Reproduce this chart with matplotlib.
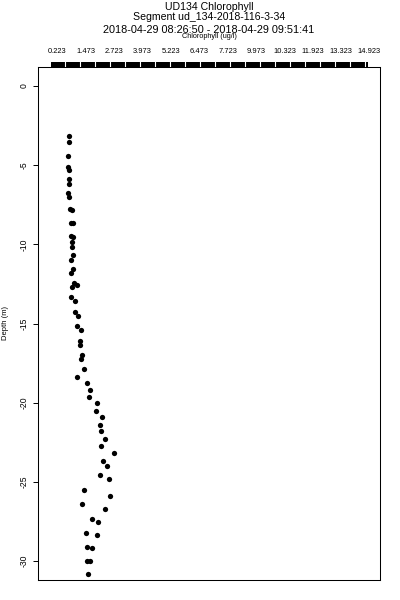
import numpy as np
import matplotlib
matplotlib.use("Agg")
import matplotlib.pyplot as plt

# chlorophyll (ug/l) and depth (m)
chl = [0.73, 0.73, 0.70, 0.70, 0.71, 0.71, 0.73, 0.70, 0.72, 0.77, 0.86,
       0.82, 0.92, 0.80, 0.92, 0.85, 0.85, 0.92, 0.80, 0.89, 0.84, 0.95,
       1.08, 0.86, 0.82, 0.99, 0.99, 1.13, 1.09, 1.25, 1.21, 1.22, 1.32,
       1.26, 1.37, 1.10, 1.51, 1.66, 1.62, 1.95, 1.91, 2.18, 2.09, 2.13,
       2.33, 2.13, 2.73, 2.24, 2.41, 2.10, 2.50, 1.39, 2.53, 1.29, 2.32,
       1.73, 2.00, 1.49, 1.95, 1.51, 1.73, 1.52, 1.66, 1.58]
depth = [-3.14, -3.52, -4.40, -5.10, -5.31, -5.89, -6.19, -6.78, -7.01,
         -7.79, -7.80, -8.67, -8.67, -9.46, -9.52, -9.84, -10.19, -10.70,
         -10.99, -11.54, -11.78, -12.46, -12.55, -12.68, -13.31, -13.58,
         -14.26, -14.53, -15.16, -15.41, -16.10, -16.33, -17.01, -17.23,
         -17.89, -18.36, -18.74, -19.20, -19.65, -20.04, -20.51, -20.91,
         -21.40, -21.81, -22.30, -22.73, -23.15, -23.67, -23.99, -24.55,
         -24.85, -25.52, -25.91, -26.41, -26.72, -27.35, -27.56, -28.22,
         -28.38, -29.13, -29.20, -30.01, -30.01, -30.84]

top_tick_vals = [0.223 + 1.25 * k for k in range(12)]
top_tick_labels = ["0.223", "1.473", "2.723", "3.973", "5.223", "6.473",
                   "7.723", "9.973", "10.323", "11.923", "13.323", "14.923"]
depth_ticks = [0, -5, -10, -15, -20, -25, -30]

title_lines = ["UD134 Chlorophyll",
               "Segment ud_134-2018-116-3-34",
               "2018-04-29 08:26:50 - 2018-04-29 09:51:41"]
xlabel = "Chlorophyll (ug/l)"
ylabel = "Depth (m)"

plt.rcParams['font.family'] = ['Liberation Sans', 'DejaVu Sans']

fig = plt.figure(figsize=(4, 6), dpi=100)
ax = fig.add_axes([38 / 400, 20 / 600, 342 / 400, 513 / 600])

ax.plot(chl, depth, 'o', color='black', ms=3.8, mew=0)
ax.set_xlim(-0.636, 14.437)
ax.set_ylim(-31.2, 1.2)

ax.set_yticks(depth_ticks)
ax.set_yticklabels([str(v) for v in depth_ticks], rotation=90, va='center', fontsize=6.2)
ax.tick_params(axis='y', length=3.6, width=0.7, pad=3, direction='out')
ax.set_ylabel(ylabel, fontsize=5.5, labelpad=8)

ax.xaxis.tick_top()
ax.set_xticks(top_tick_vals)
ax.set_xticklabels(top_tick_labels, fontsize=5.4)
ax.tick_params(axis='x', length=0, pad=8.5)

for sp in ax.spines.values():
    sp.set_linewidth(0.75)

# black segmented strip above the box
strip = fig.add_axes([51 / 400, 533 / 600, 317 / 400, 5 / 600])
strip.set_xlim(0, 317)
strip.set_ylim(0, 1)
strip.axvspan(0, 317, color='black')
for xs in range(14, 317, 15):
    strip.axvline(xs, color='white', lw=0.8)
strip.axis('off')

cx = 209 / 400
fig.text(cx, 1 - 10 / 600, title_lines[0], ha='center', va='baseline', fontsize=7.6)
fig.text(cx, 1 - 19.5 / 600, title_lines[1], ha='center', va='baseline', fontsize=7.6)
fig.text(cx, 1 - 33 / 600, title_lines[2], ha='center', va='baseline', fontsize=7.8)
fig.text(cx, 1 - 38.5 / 600, xlabel, ha='center', va='baseline', fontsize=5.2)

fig.savefig('out.png', dpi=100)
